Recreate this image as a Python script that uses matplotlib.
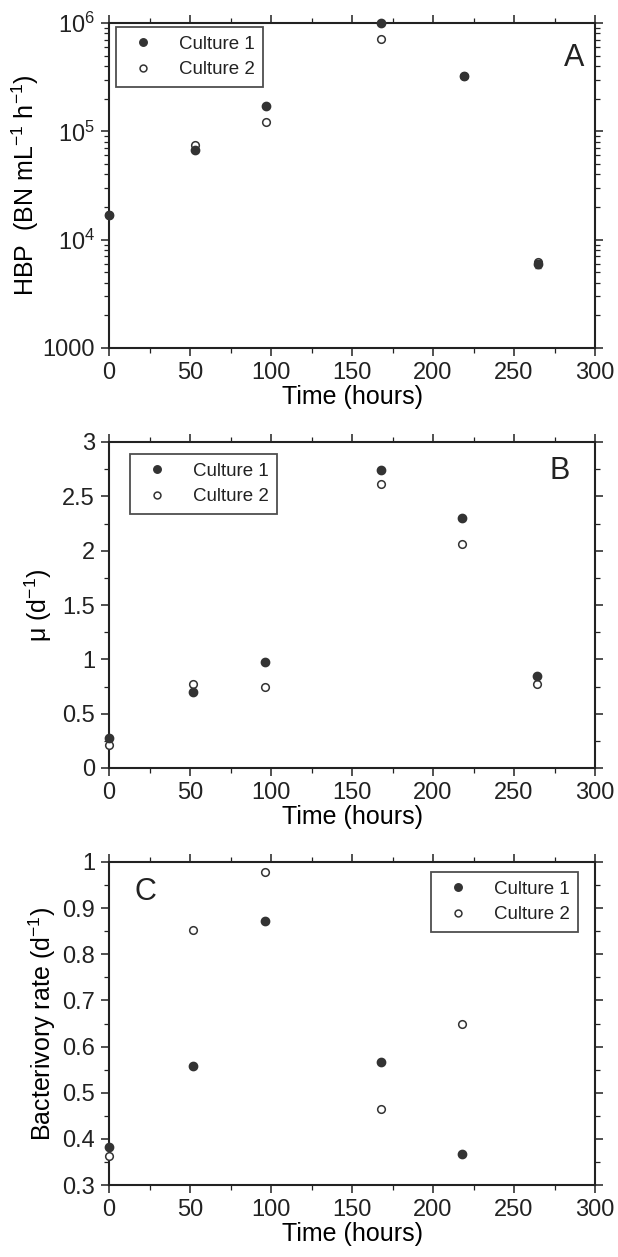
import numpy as np
import matplotlib
matplotlib.use("Agg")
import matplotlib.pyplot as plt
from matplotlib.ticker import MultipleLocator, LogLocator, FixedLocator, NullFormatter

plt.rcParams['font.family'] = ['Liberation Sans', 'DejaVu Sans']
plt.rcParams['mathtext.fontset'] = 'custom'
plt.rcParams['mathtext.rm'] = 'Liberation Sans'
plt.rcParams['mathtext.it'] = 'Liberation Sans'
plt.rcParams['text.color'] = '#222222'

# data
time_a = [0, 53, 97, 168, 219, 265]
hbp_c1 = [1.69e4, 6.7e4, 1.71e5, 1.0e6, 3.26e5, 6.0e3]
hbp_c2 = [1.69e4, 7.4e4, 1.23e5, 7.1e5, 3.26e5, 6.2e3]
hbp_err1 = [0, 0, 0, 0, 0, 500]

time_b = [0, 52, 96, 168, 218, 264]
mu_c1 = [0.28, 0.70, 0.975, 2.745, 2.30, 0.845]
mu_c2 = [0.215, 0.775, 0.75, 2.615, 2.06, 0.77]

time_c = [0, 52, 96, 168, 218]
bact_c1 = [0.382, 0.558, 0.873, 0.566, 0.367]
bact_c2 = [0.363, 0.853, 0.978, 0.465, 0.65]

fig = plt.figure(figsize=(6.18, 12.57), dpi=100)
W, H = 618, 1257

def make_ax(top, bottom):
    return fig.add_axes([109 / W, 1 - bottom / H, 486 / W, (bottom - top) / H])

ax_a = make_ax(23, 348)
ax_b = make_ax(442, 768)
ax_c = make_ax(862, 1185)

dark = '#333333'

def style(ax):
    for s in ax.spines.values():
        s.set_linewidth(1.5)
        s.set_color('#222222')
    ax.set_xlim(0, 300)
    ax.xaxis.set_major_locator(MultipleLocator(50))
    ax.xaxis.set_minor_locator(MultipleLocator(25))
    ax.tick_params(which='both', direction='out', top=True, right=True, colors='#222222')
    ax.tick_params(which='major', length=6, width=1.1, labelsize=17, pad=4)
    ax.tick_params(which='minor', length=3.5, width=0.9)
    ax.set_xlabel('Time (hours)', fontsize=18, labelpad=1)

def pts(ax, x, y1, y2, err1=None):
    if err1 is not None:
        ax.errorbar(x, y1, yerr=err1, fmt='none', ecolor=dark, elinewidth=1, capsize=2, clip_on=False, zorder=4)
    ax.plot(x, y2, 'o', ms=5.5, mfc='white', mec=dark, mew=1.1, label='Culture 2', clip_on=False, zorder=3)
    ax.plot(x, y1, 'o', ms=6, color=dark, mec=dark, label='Culture 1', clip_on=False, zorder=5)

def legend(ax, loc, anchor):
    h, l = ax.get_legend_handles_labels()
    order = [l.index('Culture 1'), l.index('Culture 2')]
    leg = ax.legend([h[i] for i in order], [l[i] for i in order], loc=loc, bbox_to_anchor=anchor,
                    fontsize=13.5, frameon=True, fancybox=False, markerscale=0.9,
                    edgecolor='#222222', handletextpad=0.9, borderpad=0.45, labelspacing=0.45,
                    handlelength=2.0, borderaxespad=0)
    leg.get_frame().set_linewidth(1.3)

# panel A
style(ax_a)
ax_a.set_yscale('log')
ax_a.set_ylim(1000, 1e6)
ax_a.yaxis.set_major_locator(FixedLocator([1e3, 1e4, 1e5, 1e6]))
ax_a.set_yticklabels(['1000', '$10^4$', '$10^5$', '$10^6$'])
ax_a.yaxis.set_minor_locator(LogLocator(base=10, subs=np.arange(2, 10)))
ax_a.yaxis.set_minor_formatter(NullFormatter())
pts(ax_a, time_a, hbp_c1, hbp_c2, hbp_err1)
ax_a.set_ylabel('HBP  (BN mL$^{-1}$ h$^{-1}$)', fontsize=18, labelpad=1)
legend(ax_a, 'upper left', (7 / 486, 1 - 4 / 325))
ax_a.text(0.957, 0.892, 'A', transform=ax_a.transAxes, fontsize=22, ha='center', va='center')

# panel B
style(ax_b)
ax_b.set_ylim(0, 3)
ax_b.set_yticks([0, 0.5, 1, 1.5, 2, 2.5, 3])
ax_b.set_yticklabels(['0', '0.5', '1', '1.5', '2', '2.5', '3'])
ax_b.yaxis.set_minor_locator(MultipleLocator(0.25))
pts(ax_b, time_b, mu_c1, mu_c2)
ax_b.set_ylabel('μ (d$^{-1}$)', fontsize=18, labelpad=6)
legend(ax_b, 'upper left', (21 / 486, 1 - 12 / 326))
ax_b.text(0.928, 0.911, 'B', transform=ax_b.transAxes, fontsize=22, ha='center', va='center')

# panel C
style(ax_c)
ax_c.set_ylim(0.3, 1.0)
ax_c.set_yticks([0.3, 0.4, 0.5, 0.6, 0.7, 0.8, 0.9, 1.0])
ax_c.set_yticklabels(['0.3', '0.4', '0.5', '0.6', '0.7', '0.8', '0.9', '1'])
ax_c.yaxis.set_minor_locator(MultipleLocator(0.05))
pts(ax_c, time_c, bact_c1, bact_c2)
ax_c.set_ylabel('Bacterivory rate (d$^{-1}$)', fontsize=18, labelpad=3)
legend(ax_c, 'upper right', (1 - 17 / 486, 1 - 10 / 323))
ax_c.text(0.076, 0.907, 'C', transform=ax_c.transAxes, fontsize=22, ha='center', va='center')

fig.savefig('out.png', dpi=100)
